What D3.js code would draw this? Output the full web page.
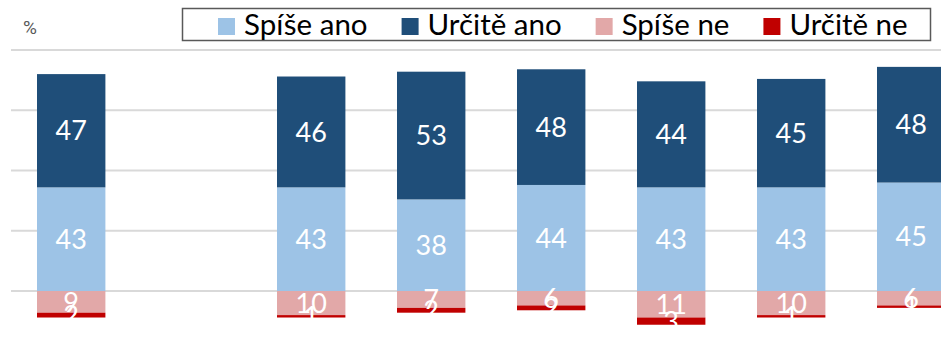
<!DOCTYPE html>
<html>
<head>
<meta charset="utf-8">
<script src="https://cdn.jsdelivr.net/npm/d3@7"></script>
<style>
  html, body { margin: 0; padding: 0; background: #fff; overflow: hidden; }
  svg { display: block; }
</style>
</head>
<body>
<svg id="chart" width="941" height="345"></svg>
<script>
// Survey waves (the second wave has no data)
const categories = ["Vlna 1", "Vlna 2", "Vlna 3", "Vlna 4", "Vlna 5", "Vlna 6", "Vlna 7", "Vlna 8"];
const seriesNames = ["Spíše ano", "Určitě ano", "Spíše ne", "Určitě ne"];
const spiseAno  = [43, null, 43, 38, 44, 43, 43, 45];
const urciteAno = [47, null, 46, 53, 48, 44, 45, 48];
const spiseNe   = [9,  null, 10, 7,  6,  11, 10, 6];
const urciteNe  = [2,  null, 1,  2,  2,  3,  1,  1];
const yTicks = [0, 25, 50, 75, 100];
const colors = ["#9DC3E6", "#1F4E79", "#E2A8A8", "#C00000"];

const svg = d3.select("#chart");
const W = 941, H = 345;

// rows for the diverging stack: agreement up, disagreement down
const rows = categories.map((c, i) => ({
  cat: c,
  empty: spiseAno[i] === null,
  "Spíše ano": spiseAno[i] ?? 0,
  "Určitě ano": urciteAno[i] ?? 0,
  "Spíše ne": -(spiseNe[i] ?? 0),
  "Určitě ne": -(urciteNe[i] ?? 0)
}));

const stacked = d3.stack()
  .keys(seriesNames)
  .offset(d3.stackOffsetDiverging)(rows);

const x = d3.scaleBand()
  .domain(categories)
  .range([11.2, 971.2])
  .paddingInner(0.43)
  .paddingOuter(0.215);

const y = d3.scaleLinear()
  .domain([-15, 100])
  .range([327.15, 50]);

const color = d3.scaleOrdinal().domain(seriesNames).range(colors);

// gridlines
svg.append("g")
  .selectAll("line")
  .data(yTicks)
  .join("line")
  .attr("x1", 11).attr("x2", W)
  .attr("y1", d => y(d)).attr("y2", d => y(d))
  .attr("stroke", "#D9D9D9")
  .attr("stroke-width", 2);

// unit label
svg.append("text")
  .attr("x", 23).attr("y", 34)
  .attr("font-family", "Roboto, 'Open Sans', sans-serif")
  .attr("font-size", 19)
  .attr("fill", "#595959")
  .text("%");

// stacked bars
const layers = svg.append("g")
  .selectAll("g")
  .data(stacked)
  .join("g")
  .attr("fill", d => color(d.key));

layers.selectAll("rect")
  .data(d => d.filter(s => !s.data.empty))
  .join("rect")
  .attr("x", d => x(d.data.cat))
  .attr("width", x.bandwidth())
  .attr("y", d => y(Math.max(d[0], d[1])))
  .attr("height", d => Math.abs(y(d[0]) - y(d[1])));

// value labels, centred in each segment
const labels = svg.append("g")
  .attr("font-family", "Lato, sans-serif")
  .attr("font-size", 27)
  .attr("fill", "#fff")
  .attr("text-anchor", "middle");

stacked.forEach(layer => {
  labels.selectAll(null)
    .data(layer.filter(s => !s.data.empty))
    .join("text")
    .attr("x", d => x(d.data.cat) + x.bandwidth() / 2)
    .attr("y", d => (y(d[0]) + y(d[1])) / 2)
    .attr("dy", "0.36em")
    .text(d => Math.abs(d.data[layer.key]));
});

// legend
const legend = svg.append("g");
legend.append("rect")
  .attr("x", 182.5).attr("y", 8.5)
  .attr("width", 748).attr("height", 32)
  .attr("fill", "#fff")
  .attr("stroke", "#595959")
  .attr("stroke-width", 1.5);

let lx = 218;
seriesNames.forEach((name, i) => {
  legend.append("rect")
    .attr("x", lx).attr("y", 18)
    .attr("width", 17).attr("height", 17)
    .attr("fill", colors[i]);
  const t = legend.append("text")
    .attr("x", lx + 26).attr("y", 35)
    .attr("font-family", "Lato, sans-serif")
    .attr("font-size", 29.5)
    .attr("fill", "#000")
    .text(name);
  lx += 26 + t.node().getComputedTextLength() + 34;
});
</script>
</body>
</html>
